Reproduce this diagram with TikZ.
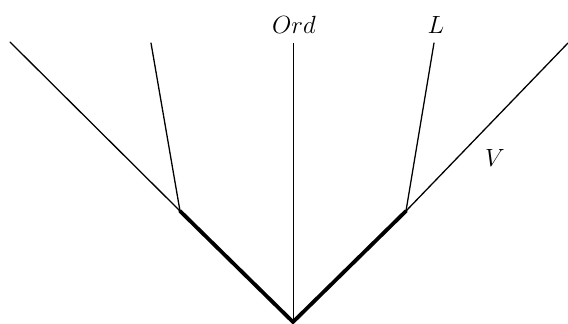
\documentclass[tikz,border=0pt]{standalone}
\usepackage{tikz}
\usetikzlibrary{calc}

\tikzset{
  branch/.style={line width=1.3pt,line cap=round},
  trunk/.style={line width=3.8pt,line cap=round},
  lbl/.style={font=\Huge,inner sep=0pt}
}

\begin{document}
\begin{tikzpicture}[x=1pt,y=-1pt]
    \useasboundingbox (0,0) rectangle (568,324);
    % points of the tree
    \coordinate (root) at (293,322);
    \coordinate (lfork) at (180,211);
    \coordinate (rfork) at (406,211);
    \coordinate (lend) at (10,42);
    \coordinate (rend) at (568,43);
    \coordinate (ltop) at (151,43);
    \coordinate (otop) at (293,43);
    \coordinate (Ltop) at (434,43);

    \node[lbl,anchor=base] (ord) at (294,34) {$Ord$};
    \node[lbl,anchor=base] (L) at (436,34) {$L$};
    \node[lbl,anchor=base] (V) at (495,166) {$V$};

    \draw[branch] (lfork) -- (lend);
    \draw[branch] (rfork) -- (rend);
    \draw[branch] (lfork) -- (ltop);
    \draw[branch] (rfork) -- (Ltop);
    \draw[line width=0.9pt] (root) -- (otop);
    \draw[trunk] (lfork) -- (root) -- (rfork);
\end{tikzpicture}
\end{document}
